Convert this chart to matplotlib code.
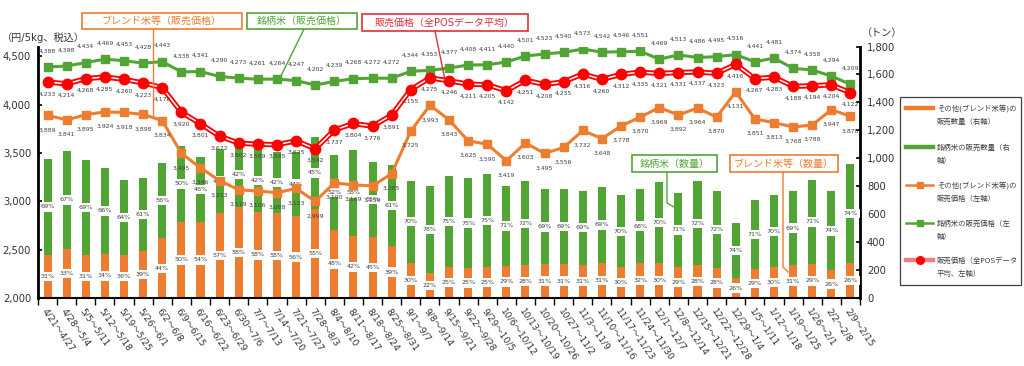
import matplotlib
matplotlib.use('Agg')
import matplotlib.pyplot as plt
from matplotlib.lines import Line2D
from matplotlib.patches import Rectangle
import numpy as np

plt.rcParams['font.family'] = ['DejaVu Sans', 'Noto Sans CJK JP']

weeks = ['4/21～4/27', '4/28～5/4', '5/5～5/11', '5/12～5/18', '5/19～5/25', '5/26～6/1',
         '6/2～6/8', '6/9～6/15', '6/16～6/22', '6/23～6/29', '6/30～7/6', '7/7～7/13',
         '7/14～7/20', '7/21～7/27', '7/28～8/3', '8/4～8/10', '8/11～8/17', '8/18～8/24',
         '8/25～8/31', '9/1～9/7', '9/8～9/14', '9/15～9/21', '9/22～9/28', '9/29～10/5',
         '10/6～10/12', '10/13～10/19', '10/20～10/26', '10/27～11/2', '11/3～11/9',
         '11/10～11/16', '11/17～11/23', '11/24～11/30', '12/1～12/7', '12/8～12/14',
         '12/15～12/21', '12/22～12/28', '12/29～1/4', '1/5～1/11', '1/12～1/18',
         '1/19～1/25', '1/26～2/1', '2/2～2/8', '2/9～2/15']

brand_price = [4388, 4398, 4434, 4469, 4453, 4428, 4443, 4338, 4341, 4290, 4273, 4261, 4264,
               4247, 4202, 4239, 4268, 4272, 4272, 4344, 4353, 4377, 4408, 4411, 4440, 4501,
               4523, 4540, 4573, 4542, 4546, 4551, 4469, 4513, 4486, 4495, 4516, 4441, 4481,
               4374, 4358, 4294, 4209]
pos_price = [4233, 4214, 4268, 4285, 4260, 4223, 4176, 3920, 3801, 3672, 3602, 3589, 3585,
             3625, 3542, 3737, 3804, 3776, 3891, 4155, 4275, 4246, 4211, 4205, 4142, 4251,
             4208, 4235, 4316, 4260, 4312, 4335, 4321, 4331, 4337, 4323, 4416, 4267, 4283,
             4188, 4194, 4204, 4122]
blend_price = [3889, 3841, 3895, 3924, 3918, 3898, 3834, 3495, 3346, 3213, 3119, 3106, 3088,
               3133, 2999, 3190, 3169, 3159, 3285, 3725, 3993, 3843, 3625, 3590, 3419, 3603,
               3495, 3556, 3732, 3648, 3778, 3870, 3969, 3892, 3964, 3870, 4131, 3851, 3813,
               3768, 3788, 3947, 3878]

blend_qty = [308, 348, 307, 316, 305, 335, 426, 545, 545, 607, 650, 618, 606, 585, 635, 490,
             445, 437, 371, 252, 177, 219, 215, 221, 232, 234, 241, 242, 238, 247, 220, 250,
             250, 219, 234, 215, 140, 204, 220, 237, 245, 198, 249]
brand_qty = [687, 707, 683, 614, 543, 525, 542, 545, 465, 458, 470, 447, 439, 460, 520, 530,
             615, 535, 579, 588, 628, 656, 643, 664, 568, 601, 537, 538, 530, 551, 514, 530,
             582, 536, 600, 553, 400, 499, 514, 526, 601, 565, 710]

blend_pct = [31, 33, 31, 34, 36, 39, 44, 50, 54, 57, 58, 58, 58, 56, 55, 48, 42, 45, 39, 30,
             22, 25, 25, 25, 29, 28, 31, 31, 31, 31, 30, 32, 30, 29, 28, 28, 26, 29, 30, 31,
             29, 26, 26]
brand_pct = [69, 67, 69, 66, 64, 61, 56, 50, 46, 43, 42, 42, 42, 44, 45, 52, 58, 55, 61, 70,
             78, 75, 75, 75, 71, 72, 69, 69, 69, 69, 70, 68, 70, 71, 72, 72, 74, 71, 70, 69,
             71, 74, 74]

left_ticks = [2000, 2500, 3000, 3500, 4000, 4500]
right_ticks = [0, 200, 400, 600, 800, 1000, 1200, 1400, 1600, 1800]

ORANGE = '#ED7D31'
GREEN = '#52A535'
RED = '#FF0000'
TXT = '#404040'

W, H = 1024, 366
fig = plt.figure(figsize=(10.24, 3.66), dpi=100)


def fx(px):
    return px / W


def fy(py):
    return 1 - py / H


L, R, T, B = 38, 860, 46.5, 298
ax = fig.add_axes([fx(L), fy(B), fx(R) - fx(L), fy(T) - fy(B)])
ax2 = ax.twinx()
ax.set_zorder(3)
ax.patch.set_visible(False)

n = len(weeks)
x = np.arange(n)

# bars (right axis)
ax2.bar(x, blend_qty, width=0.42, color=ORANGE, zorder=2)
ax2.bar(x, brand_qty, bottom=blend_qty, width=0.42, color=GREEN, zorder=2)
for i in range(n):
    ax2.text(i, blend_qty[i] / 2, f'{blend_pct[i]}%', ha='center', va='center',
             fontsize=4.6, color=TXT, zorder=4,
             bbox=dict(boxstyle='square,pad=0.35', fc='white', ec='none'))
    ax2.text(i, blend_qty[i] + brand_qty[i] / 2, f'{brand_pct[i]}%', ha='center',
             va='center', fontsize=4.6, color=TXT, zorder=4,
             bbox=dict(boxstyle='square,pad=0.35', fc='white', ec='none'))
ax2.set_ylim(0, 1800)
ax2.set_yticks(right_ticks)
ax2.set_yticklabels([f'{v:,}' for v in right_ticks])
ax2.tick_params(axis='y', direction='in', length=3, width=1.2, labelsize=7.2,
                labelcolor='#333333', pad=5)
for s in ['left', 'top', 'bottom']:
    ax2.spines[s].set_visible(False)
ax2.spines['right'].set_linewidth(2)
ax2.spines['right'].set_color('black')

# lines (left axis)
ax.plot(x, blend_price, color=ORANGE, lw=2.2, marker='s', ms=6, zorder=3)
ax.plot(x, brand_price, color=GREEN, lw=2.2, marker='s', ms=6, zorder=3)
ax.plot(x, pos_price, color=RED, lw=3.8, zorder=4, solid_joinstyle='round')
ax.plot(x, pos_price, color='white', lw=1.1, zorder=5, solid_joinstyle='round')
ax.plot(x, pos_price, ls='none', marker='o', ms=7.5, color=RED, zorder=6)

for i in range(n):
    ax.annotate(f'{brand_price[i]:,}', (i, brand_price[i]), xytext=(0, 11.5),
                textcoords='offset points', ha='center', va='center', fontsize=4.4,
                color=TXT, zorder=7)
    ax.annotate(f'{pos_price[i]:,}', (i, pos_price[i]), xytext=(0, -8.5),
                textcoords='offset points', ha='center', va='center', fontsize=4.4,
                color=TXT, zorder=7)
    ax.annotate(f'{blend_price[i]:,}', (i, blend_price[i]), xytext=(0, -10.5),
                textcoords='offset points', ha='center', va='center', fontsize=4.4,
                color=TXT, zorder=7)

ax.set_ylim(2000, 4600)
ax.set_yticks(left_ticks)
ax.set_yticklabels([f'{v:,}' for v in left_ticks])
ax.tick_params(axis='y', direction='in', length=3, width=1.2, labelsize=7.2,
               labelcolor='#333333', pad=5)
ax.set_xlim(-0.5, n - 0.5)
ax.set_xticks(x)
ax.set_xticklabels(weeks, rotation=-55, ha='left', va='top', rotation_mode='anchor',
                   fontsize=6.6, color='#333333')
ax.set_xticks(np.arange(-0.5, n, 1), minor=True)
ax.tick_params(axis='x', which='major', length=0, pad=6)
ax.tick_params(axis='x', which='minor', length=5, width=1, direction='out')
for s in ['right', 'top']:
    ax.spines[s].set_visible(False)
ax.spines['left'].set_linewidth(2)
ax.spines['bottom'].set_linewidth(1.5)

# unit labels
fig.text(fx(2), fy(38), '（円/5kg、税込）', fontsize=7.3, color='#333333', va='center',
         ha='left')
fig.text(fx(862), fy(33), '（トン）', fontsize=7.3, color='#333333', va='center', ha='left')


# annotation boxes
def callout(x0, y0, x1, y1, text, color, pts):
    fig.add_artist(Rectangle((fx(x0), fy(y1)), fx(x1) - fx(x0), fy(y0) - fy(y1),
                             transform=fig.transFigure, fc='white', ec=color, lw=1.2,
                             zorder=10))
    fig.text(fx((x0 + x1) / 2), fy((y0 + y1) / 2), text, color=color, fontsize=7.2,
             ha='center', va='center', zorder=11)
    xs = [fx(p[0]) for p in pts]
    ys = [fy(p[1]) for p in pts]
    fig.add_artist(Line2D(xs, ys, transform=fig.transFigure, color=color, lw=1.0,
                          zorder=9))


callout(82, 13, 242, 29, 'ブレンド米等（販売価格）', ORANGE, [(153, 29), (153, 117)])
callout(247, 13, 357, 29, '銘柄米（販売価格）', GREEN, [(304, 29), (279, 80)])
callout(362, 14, 528, 31, '販売価格（全POSデータ平均）', '#E0303A', [(435, 31), (445, 80)])
callout(632, 155, 717, 172, '銘柄米（数量）', GREEN, [(667, 172), (667, 203), (674, 207)])
callout(730, 155, 838, 172, 'ブレンド米等（数量）', ORANGE,
        [(783, 172), (783, 267), (788, 272)])

# legend (manual)
fig.add_artist(Rectangle((fx(900), fy(285)), fx(1021) - fx(900), fy(97) - fy(285),
                         transform=fig.transFigure, fc='white', ec='#404040', lw=0.9,
                         zorder=10))
leg_rows = [108, 147, 185, 223, 260]
leg_text = [('その他(ブレンド米等)の', '販売数量（右軸）'),
            ('銘柄米の販売数量（右', '軸）'),
            ('その他(ブレンド米等)の', '販売価格（左軸）'),
            ('銘柄米の販売価格（左', '軸）'),
            ('販売価格（全POSデータ', '平均、左軸）')]
for k, yy in enumerate(leg_rows):
    X = [fx(906), fx(933)]
    Y = [fy(yy), fy(yy)]
    if k == 0:
        fig.add_artist(Line2D(X, Y, transform=fig.transFigure, color=ORANGE, lw=3.2, zorder=11))
    elif k == 1:
        fig.add_artist(Line2D(X, Y, transform=fig.transFigure, color=GREEN, lw=3.2, zorder=11))
    elif k == 2:
        fig.add_artist(Line2D(X, Y, transform=fig.transFigure, color=ORANGE, lw=1.8, zorder=11))
        fig.add_artist(Line2D([fx(919.5)], [fy(yy)], transform=fig.transFigure, color=ORANGE,
                              marker='s', ms=5, ls='none', zorder=12))
    elif k == 3:
        fig.add_artist(Line2D(X, Y, transform=fig.transFigure, color=GREEN, lw=1.8, zorder=11))
        fig.add_artist(Line2D([fx(919.5)], [fy(yy)], transform=fig.transFigure, color=GREEN,
                              marker='s', ms=5, ls='none', zorder=12))
    else:
        fig.add_artist(Line2D(X, Y, transform=fig.transFigure, color='#F08080', lw=3.2,
                              zorder=11))
        fig.add_artist(Line2D([fx(919.5)], [fy(yy)], transform=fig.transFigure, color=RED,
                              marker='o', ms=5.5, ls='none', zorder=12))
    fig.text(fx(937), fy(yy), leg_text[k][0], fontsize=5.3, color=TXT, va='center',
             ha='left', zorder=12)
    fig.text(fx(937), fy(yy + 13), leg_text[k][1], fontsize=5.3, color=TXT, va='center',
             ha='left', zorder=12)

fig.savefig('out.png', dpi=100)
